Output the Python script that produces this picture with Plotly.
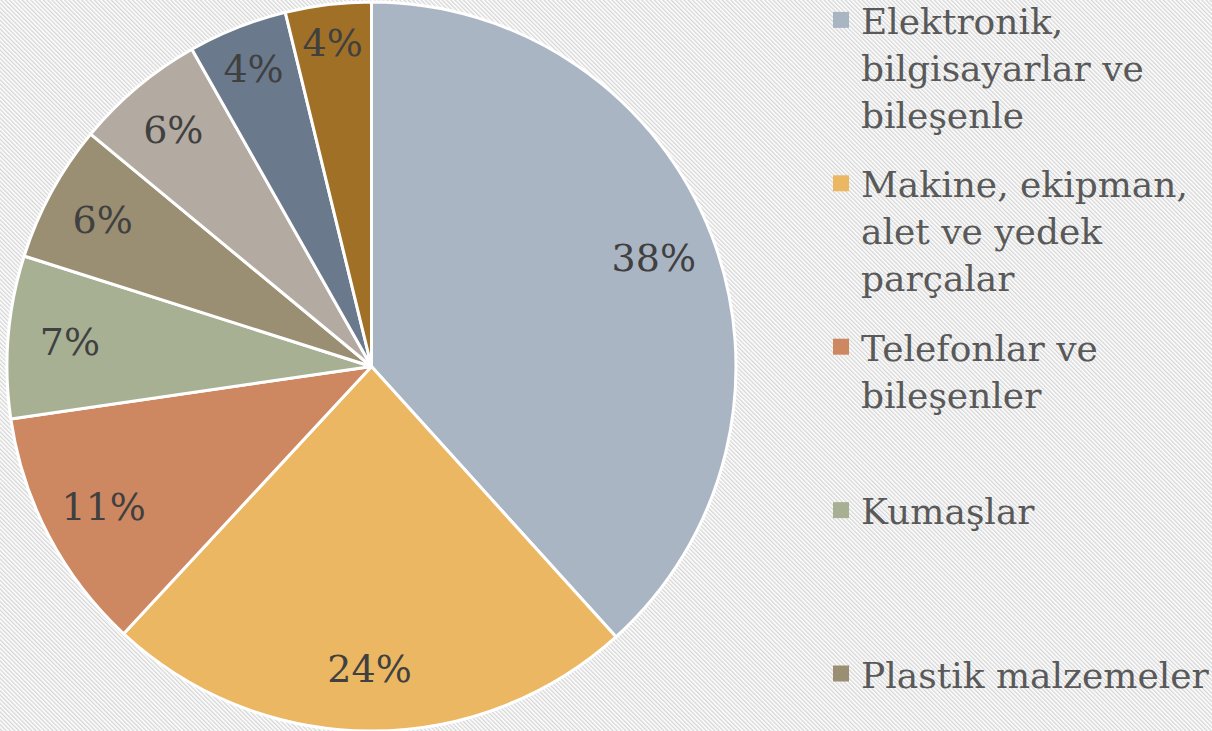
import base64
import plotly.graph_objects as go

# ---- data ----
categories = [
    "Elektronik, bilgisayarlar ve bileşenle",
    "Makine, ekipman, alet ve yedek parçalar",
    "Telefonlar ve bileşenler",
    "Kumaşlar",
    "Plastik malzemeler",
    "Kategori 6",
    "Kategori 7",
    "Kategori 8",
]
values = [38.3, 23.6, 10.8, 7.2, 6.1, 5.8, 4.4, 3.8]
colors = ["#aab5c4", "#ebb762", "#cd8862", "#a8b094",
          "#9a8e73", "#b3aba1", "#6b798c", "#a17027"]
# legend text as shown (wrapped); only the first five entries are visible in the original
legend_labels = [
    "Elektronik,<br>bilgisayarlar ve<br>bileşenle",
    "Makine, ekipman,<br>alet ve yedek<br>parçalar",
    "Telefonlar ve<br>bileşenler<br> ",
    "Kumaşlar<br> <br> ",
    "Plastik malzemeler",
]

W, H = 1212, 731

# diagonal hatch background
svg = f'''<svg xmlns="http://www.w3.org/2000/svg" width="{W}" height="{H}">
<defs><pattern id="p" width="3" height="3" patternUnits="userSpaceOnUse" patternTransform="rotate(-45)">
<rect x="0" y="0" width="1.4" height="3" fill="#d6d6d6"/></pattern></defs>
<rect width="{W}" height="{H}" fill="#ffffff"/>
<rect width="{W}" height="{H}" fill="url(#p)"/>
</svg>'''
bg_uri = "data:image/svg+xml;base64," + base64.b64encode(svg.encode()).decode()

pie_domain = dict(x=[4 / W, 739 / W], y=[0, 1 - 2 / H])

fig = go.Figure()
# coloured slices
fig.add_trace(go.Pie(
    labels=categories,
    values=values,
    sort=False,
    direction="clockwise",
    rotation=0,
    marker=dict(colors=colors, line=dict(color="#ffffff", width=3)),
    textinfo="none",
    showlegend=False,
    domain=pie_domain,
))
# same slices, transparent, carrying the percentage labels toward the rim
fig.add_trace(go.Pie(
    labels=categories,
    values=values,
    sort=False,
    direction="clockwise",
    rotation=0,
    hole=0.66,
    marker=dict(colors=["rgba(0,0,0,0)"] * len(values), line=dict(width=0)),
    textposition="inside",
    insidetextorientation="horizontal",
    texttemplate="%{percent:.0%}",
    textfont=dict(family="DejaVu Serif", size=38, color="#404040"),
    hoverinfo="skip",
    showlegend=False,
    domain=pie_domain,
))

for i, lab in enumerate(legend_labels):
    fig.add_trace(go.Scatter(
        x=[None], y=[None], mode="markers", name=lab,
        legendgroup=f"g{i}",
        marker=dict(symbol="square", size=16, color=colors[i]),
        hoverinfo="skip",
    ))

fig.update_layout(
    width=W, height=H,
    margin=dict(l=0, r=0, t=0, b=0, autoexpand=False),
    paper_bgcolor="#ffffff",
    plot_bgcolor="rgba(0,0,0,0)",
    xaxis=dict(visible=False),
    yaxis=dict(visible=False),
    images=[dict(source=bg_uri, xref="paper", yref="paper", x=0, y=1,
                 sizex=1, sizey=1, sizing="stretch", layer="below")],
    legend=dict(
        x=821 / W, y=1 + 10 / H, xanchor="left", yanchor="top",
        bgcolor="rgba(0,0,0,0)",
        font=dict(family="DejaVu Serif", size=36, color="#595959"),
        valign="top",
        tracegroupgap=20,
        maxheight=2000,
    ),
)

fig.write_html("out.html", config={"displayModeBar": False},
               post_script="document.body.style.margin='0';")
